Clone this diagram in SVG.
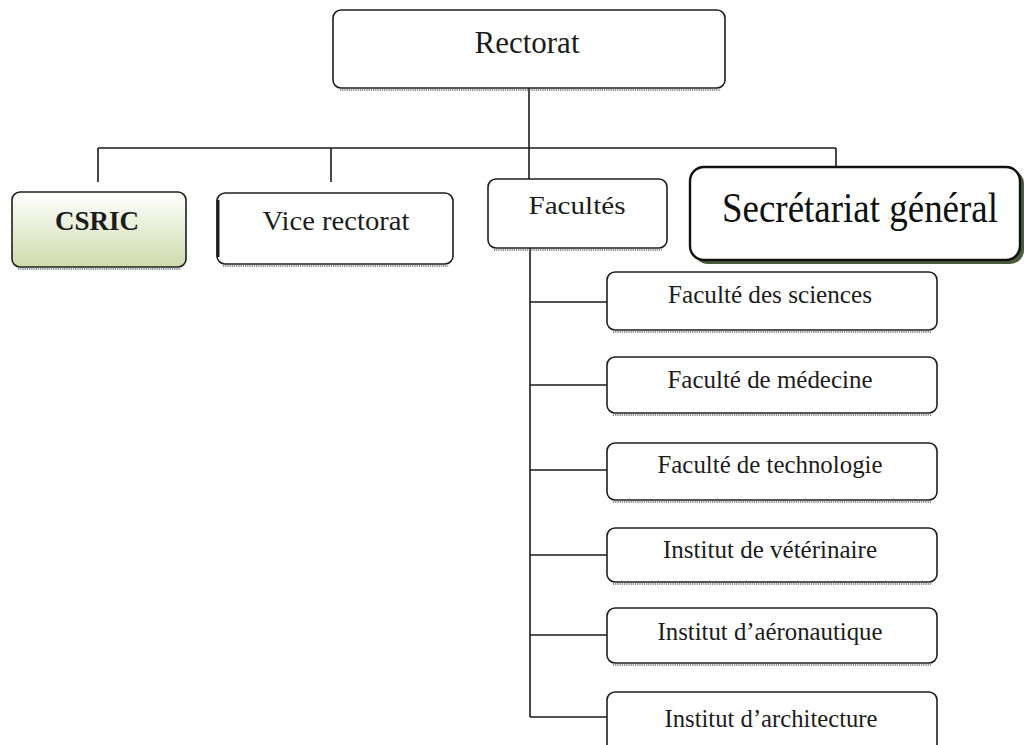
<svg xmlns="http://www.w3.org/2000/svg" width="1026" height="745" viewBox="0 0 1026 745">
  <style>
    .box { fill: #ffffff; stroke: #1e1e1e; stroke-width: 1.6; }
    .shade { fill: none; stroke: #6a6a6a; stroke-width: 1.6; stroke-dasharray: 1.2 1; }
    .lbl { font-family: "Liberation Serif", "Times New Roman", serif; fill: #1c1c1c; text-anchor: middle; }
    .wire { fill: none; stroke: #1a1a1a; stroke-width: 1.6; }
  </style>
  <defs>
    <linearGradient id="greenFill" x1="0" y1="0" x2="0" y2="1">
      <stop offset="0" stop-color="#ffffff"/>
      <stop offset="1" stop-color="#cfdbac"/>
    </linearGradient>
  </defs>

  <!-- connectors -->
  <g id="connectors">
    <line class="wire" x1="529" y1="88" x2="529" y2="179"/>
    <line class="wire" x1="98" y1="148" x2="836" y2="148"/>
    <line class="wire" x1="98" y1="148" x2="98" y2="182"/>
    <line class="wire" x1="331" y1="148" x2="331" y2="182"/>
    <line class="wire" x1="836" y1="148" x2="836" y2="166"/>
    <line class="wire" x1="530" y1="248" x2="530" y2="717"/>
    <line class="wire" x1="530" y1="302" x2="607" y2="302"/>
    <line class="wire" x1="530" y1="385" x2="607" y2="385"/>
    <line class="wire" x1="530" y1="470" x2="607" y2="470"/>
    <line class="wire" x1="530" y1="555" x2="607" y2="555"/>
    <line class="wire" x1="530" y1="635" x2="607" y2="635"/>
    <line class="wire" x1="530" y1="717" x2="607" y2="717"/>
  </g>

  <g id="rectorat">
    <line class="shade" x1="340" y1="90" x2="720" y2="90"/>
    <rect class="box" x="333" y="10" width="392" height="78" rx="8"/>
    <text class="lbl" x="527" y="53" font-size="31">Rectorat</text>
  </g>

  <g id="csric">
    <line class="shade" x1="18" y1="269" x2="181" y2="269"/>
    <rect x="12" y="192" width="174" height="75" rx="8" fill="url(#greenFill)" stroke="#1e1e1e" stroke-width="1.6"/>
    <text class="lbl" x="97" y="230" font-size="27" font-weight="bold">CSRIC</text>
  </g>

  <g id="vice-rectorat">
    <line class="shade" x1="223" y1="266" x2="448" y2="266"/>
    <rect class="box" x="217" y="193" width="236" height="71" rx="8"/>
    <line x1="218" y1="200" x2="218" y2="257" stroke="#1e1e1e" stroke-width="3"/>
    <text class="lbl" x="336" y="230" font-size="27" textLength="147" lengthAdjust="spacingAndGlyphs">Vice rectorat</text>
  </g>

  <g id="facultes">
    <line class="shade" x1="494" y1="250" x2="662" y2="250"/>
    <rect class="box" x="488" y="179" width="179" height="69" rx="8"/>
    <text class="lbl" x="577" y="214" font-size="26" textLength="97" lengthAdjust="spacingAndGlyphs">Facultés</text>
  </g>

  <g id="secretariat">
    <rect x="694" y="170" width="330" height="94" rx="14" fill="#4a5a3c"/>
    <rect x="690" y="167" width="330" height="93" rx="14" fill="#ffffff" stroke="#111111" stroke-width="2.4"/>
    <text transform="translate(860 222) scale(1 1.1)" x="0" y="0" font-family="'Liberation Serif', 'Times New Roman', serif" font-size="38" fill="#111111" text-anchor="middle" textLength="276" lengthAdjust="spacingAndGlyphs">Secrétariat général</text>
  </g>

  <g id="fac-sciences">
    <line class="shade" x1="613" y1="332" x2="932" y2="332"/>
    <rect class="box" x="607" y="272" width="330" height="58" rx="8"/>
    <text class="lbl" x="770" y="303" font-size="25" textLength="204" lengthAdjust="spacingAndGlyphs">Faculté des sciences</text>
  </g>

  <g id="fac-medecine">
    <line class="shade" x1="613" y1="415" x2="932" y2="415"/>
    <rect class="box" x="607" y="357" width="330" height="56" rx="8"/>
    <text class="lbl" x="770" y="388" font-size="25" textLength="205" lengthAdjust="spacingAndGlyphs">Faculté de  médecine</text>
  </g>

  <g id="fac-technologie">
    <line class="shade" x1="613" y1="502" x2="932" y2="502"/>
    <rect class="box" x="607" y="443" width="330" height="57" rx="8"/>
    <text class="lbl" x="770" y="473" font-size="25" textLength="225" lengthAdjust="spacingAndGlyphs">Faculté de technologie</text>
  </g>

  <g id="inst-veterinaire">
    <line class="shade" x1="613" y1="584" x2="932" y2="584"/>
    <rect class="box" x="607" y="528" width="330" height="54" rx="8"/>
    <text class="lbl" x="770" y="558" font-size="25" textLength="214" lengthAdjust="spacingAndGlyphs">Institut de vétérinaire</text>
  </g>

  <g id="inst-aeronautique">
    <line class="shade" x1="613" y1="665" x2="932" y2="665"/>
    <rect class="box" x="607" y="608" width="330" height="55" rx="8"/>
    <text class="lbl" x="770" y="640" font-size="25" textLength="225" lengthAdjust="spacingAndGlyphs">Institut  d’aéronautique</text>
  </g>

  <g id="inst-architecture">
    <rect class="box" x="607" y="692" width="330" height="64" rx="8"/>
    <text class="lbl" x="771" y="727" font-size="25" textLength="213" lengthAdjust="spacingAndGlyphs">Institut d’architecture</text>
  </g>
</svg>
